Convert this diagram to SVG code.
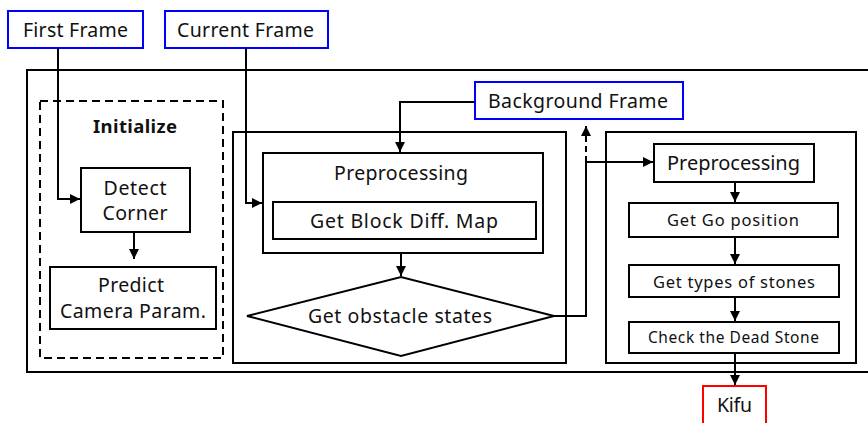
<svg xmlns="http://www.w3.org/2000/svg" width="868" height="423" viewBox="0 0 868 423">
  <style>
    text { font-family: "Noto Sans", "Open Sans", "DejaVu Sans", sans-serif; fill: #111; text-anchor: middle; }
    .box { fill: #fff; stroke: #000; stroke-width: 2; }
    .frame { fill: none; stroke: #000; stroke-width: 2; }
    .input { fill: #fff; stroke: #0000ff; stroke-width: 2; }
    .output { fill: #fff; stroke: #ff0000; stroke-width: 2; }
    .wire { fill: none; stroke: #000; stroke-width: 2; }
    .dash { fill: none; stroke: #000; stroke-width: 2; stroke-dasharray: 6 4; }
    .t19 { font-size: 19.5px; }
    .t16 { font-size: 16.5px; }
    .t15 { font-size: 15.5px; }
  </style>
  <defs>
    <marker id="arrow" viewBox="0 0 10 10" refX="10" refY="5" markerWidth="5" markerHeight="5" orient="auto" markerUnits="strokeWidth">
      <path d="M0,0 L10,5 L0,10 z" fill="#000"/>
    </marker>
  </defs>

  <rect width="868" height="423" fill="#fff"/>

  <!-- containers -->
  <g id="system">
    <rect class="frame" x="27" y="70" width="860" height="302"/>
  </g>
  <g id="initialize">
    <rect class="frame" x="40" y="101" width="183" height="257" stroke-dasharray="8 5"/>
    <text x="135" y="133" font-size="18.5" font-weight="bold" textLength="84">Initialize</text>
  </g>
  <g id="obstacle-stage">
    <rect class="frame" x="233" y="132" width="333" height="231"/>
  </g>
  <g id="recognition-stage">
    <rect class="frame" x="606" y="132" width="250" height="231"/>
  </g>

  <!-- inputs / output -->
  <g id="first-frame">
    <rect class="input" x="8" y="11" width="135" height="37"/>
    <text class="t19" x="75.5" y="37" textLength="105">First Frame</text>
  </g>
  <g id="current-frame">
    <rect class="input" x="165" y="11" width="163" height="37"/>
    <text class="t19" x="245.5" y="37" textLength="137">Current Frame</text>
  </g>
  <g id="background-frame">
    <rect class="input" x="475" y="82" width="208" height="37"/>
    <text class="t19" x="578" y="108" textLength="180">Background Frame</text>
  </g>
  <g id="kifu">
    <rect class="output" x="703" y="386" width="63" height="42"/>
    <text class="t19" x="734.5" y="412" textLength="35">Kifu</text>
  </g>

  <!-- initialize steps -->
  <g id="detect-corner">
    <rect class="box" x="81" y="168" width="109" height="64"/>
    <text class="t19" x="135" y="195" textLength="63">Detect</text>
    <text class="t19" x="135" y="220" textLength="65">Corner</text>
  </g>
  <g id="predict-camera">
    <rect class="box" x="50" y="267" width="166" height="62"/>
    <text class="t19" x="131" y="292" textLength="66">Predict</text>
    <text class="t19" x="133" y="318" textLength="146">Camera Param.</text>
  </g>

  <!-- obstacle stage steps -->
  <g id="preprocessing-a">
    <rect class="box" x="263" y="153" width="280" height="100"/>
    <text class="t19" x="401" y="180" textLength="134">Preprocessing</text>
  </g>
  <g id="block-diff">
    <rect class="box" x="273" y="202" width="263" height="37"/>
    <text class="t19" x="404" y="228" textLength="188">Get Block Diff. Map</text>
  </g>
  <g id="obstacle-states">
    <polygon class="box" points="247,316 401,277 554,316 401,356"/>
    <text class="t19" x="400" y="323" textLength="184">Get obstacle states</text>
  </g>

  <!-- recognition stage steps -->
  <g id="preprocessing-b">
    <rect class="box" x="654" y="144" width="160" height="38"/>
    <text x="733.5" y="170" font-size="20" textLength="133">Preprocessing</text>
  </g>
  <g id="go-position">
    <rect class="box" x="629" y="203" width="209" height="34"/>
    <text class="t16" x="733" y="226" textLength="132">Get Go position</text>
  </g>
  <g id="stone-types">
    <rect class="box" x="629" y="265" width="210" height="32"/>
    <text class="t16" x="734" y="288" textLength="162">Get types of stones</text>
  </g>
  <g id="dead-stone">
    <rect class="box" x="629" y="322" width="210" height="31"/>
    <text class="t15" x="733.5" y="343" textLength="171">Check the Dead Stone</text>
  </g>

  <!-- connectors -->
  <g id="connectors">
    <polyline class="wire" points="58,48 58,199 80,199" marker-end="url(#arrow)"/>
    <polyline class="wire" points="246,48 246,203 262,203" marker-end="url(#arrow)"/>
    <line class="wire" x1="134" y1="233" x2="134" y2="259" marker-end="url(#arrow)"/>
    <polyline class="wire" points="475,102 400,102 400,152" marker-end="url(#arrow)"/>
    <line class="wire" x1="401" y1="254" x2="401" y2="276" marker-end="url(#arrow)"/>
    <polyline class="wire" points="554,316 586,316 586,162"/>
    <line class="dash" x1="586" y1="162" x2="586" y2="126" marker-end="url(#arrow)"/>
    <line class="wire" x1="586" y1="162" x2="653" y2="162" marker-end="url(#arrow)"/>
    <line class="wire" x1="735" y1="183" x2="735" y2="202" marker-end="url(#arrow)"/>
    <line class="wire" x1="735" y1="238" x2="735" y2="264" marker-end="url(#arrow)"/>
    <line class="wire" x1="735" y1="298" x2="735" y2="321" marker-end="url(#arrow)"/>
    <line class="wire" x1="735" y1="354" x2="735" y2="385" marker-end="url(#arrow)"/>
  </g>
</svg>
